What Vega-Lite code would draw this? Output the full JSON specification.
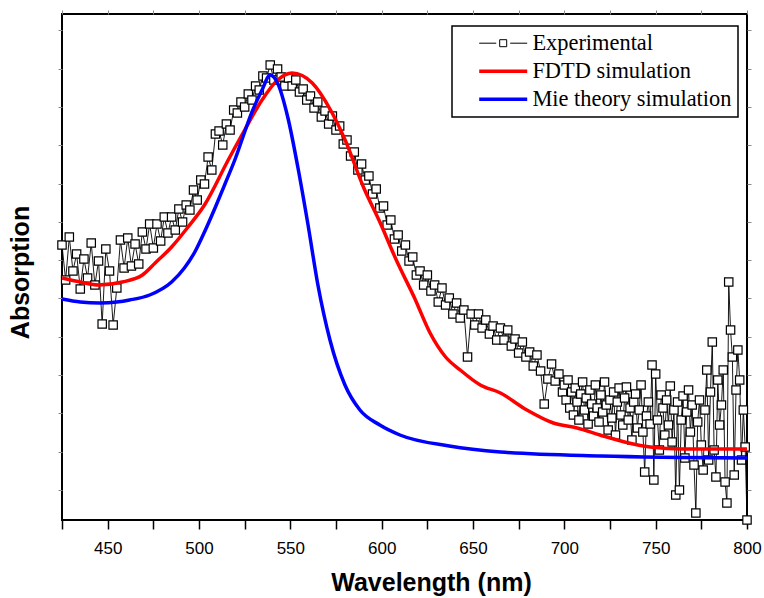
{
  "$schema": "https://vega.github.io/schema/vega-lite/v6.json",
  "width": 685,
  "height": 506,
  "autosize": {"type": "none"},
  "padding": {"left": 62, "top": 14, "right": 17, "bottom": 78},
  "background": "white",
  "config": {
    "view": {"stroke": "black", "strokeWidth": 2},
    "font": "Liberation Sans",
    "axis": {"domain": false, "grid": false},
    "legend": {"title": null}
  },
  "datasets": {
    "exp": [
      {"w":425,"a":275},{"w":427,"a":240},{"w":429,"a":283},{"w":431,"a":249},{"w":433,"a":266},{"w":435,"a":231},{"w":437,"a":261},{"w":439,"a":242},{"w":441,"a":277},{"w":443,"a":235},
      {"w":445,"a":259},{"w":447,"a":196},{"w":449,"a":271},{"w":451,"a":249},{"w":453,"a":195},{"w":455,"a":232},{"w":457,"a":280},{"w":459,"a":252},{"w":461,"a":282},{"w":463,"a":254},
      {"w":465,"a":276},{"w":467,"a":256},{"w":469,"a":288},{"w":471,"a":271},{"w":473,"a":296},{"w":475,"a":272},{"w":477,"a":296},{"w":479,"a":279},{"w":481,"a":303},{"w":483,"a":287},
      {"w":485,"a":303},{"w":487,"a":290},{"w":489,"a":311},{"w":491,"a":298},{"w":493,"a":315},{"w":495,"a":310},{"w":497,"a":330},{"w":499,"a":320},{"w":501,"a":340},{"w":503,"a":336},
      {"w":505,"a":363},{"w":507,"a":350},{"w":509,"a":386},{"w":511,"a":389},{"w":513,"a":375},{"w":515,"a":396},{"w":517,"a":390},{"w":519,"a":410},{"w":521,"a":407},{"w":523,"a":418},
      {"w":525,"a":413},{"w":527,"a":426},{"w":529,"a":420},{"w":531,"a":434},{"w":533,"a":430},{"w":535,"a":444},{"w":537,"a":442},{"w":539,"a":455},{"w":541,"a":440},{"w":543,"a":451},
      {"w":545,"a":443},{"w":547,"a":434},{"w":549,"a":442},{"w":551,"a":434},{"w":553,"a":440},{"w":555,"a":428},{"w":557,"a":431},{"w":559,"a":420},{"w":561,"a":424},{"w":563,"a":412},
      {"w":565,"a":418},{"w":567,"a":403},{"w":569,"a":409},{"w":571,"a":396},{"w":573,"a":404},{"w":575,"a":390},{"w":577,"a":394},{"w":579,"a":376},{"w":581,"a":380},{"w":583,"a":364},
      {"w":585,"a":368},{"w":587,"a":350},{"w":589,"a":356},{"w":591,"a":340},{"w":593,"a":344},{"w":595,"a":326},{"w":597,"a":331},{"w":599,"a":312},{"w":601,"a":314},{"w":603,"a":295},
      {"w":605,"a":300},{"w":607,"a":281},{"w":609,"a":285},{"w":611,"a":269},{"w":613,"a":275},{"w":615,"a":259},{"w":617,"a":263},{"w":619,"a":245},{"w":621,"a":249},{"w":623,"a":235},
      {"w":625,"a":245},{"w":627,"a":229},{"w":629,"a":235},{"w":631,"a":218},{"w":633,"a":232},{"w":635,"a":215},{"w":637,"a":222},{"w":639,"a":206},{"w":641,"a":217},{"w":643,"a":202},
      {"w":645,"a":210},{"w":647,"a":163},{"w":649,"a":206},{"w":651,"a":195},{"w":653,"a":206},{"w":655,"a":192},{"w":657,"a":200},{"w":659,"a":186},{"w":661,"a":194},{"w":663,"a":180},
      {"w":665,"a":192},{"w":667,"a":180},{"w":669,"a":190},{"w":671,"a":174},{"w":673,"a":181},{"w":675,"a":167},{"w":677,"a":178},{"w":679,"a":163},{"w":681,"a":168},{"w":683,"a":154},
      {"w":685,"a":165},{"w":687,"a":149},{"w":689,"a":116},{"w":691,"a":141},{"w":693,"a":156},{"w":695,"a":139},{"w":697,"a":146},{"w":699,"a":128},
      {"w":700,"a":135},{"w":701,"a":120},{"w":702,"a":140},{"w":703,"a":112},{"w":704,"a":128},{"w":705,"a":105},{"w":706,"a":132},{"w":707,"a":118},{"w":708,"a":100},{"w":709,"a":126},
      {"w":710,"a":138},{"w":711,"a":110},{"w":712,"a":122},{"w":713,"a":96},{"w":714,"a":130},{"w":715,"a":116},{"w":716,"a":104},{"w":717,"a":135},{"w":718,"a":112},{"w":719,"a":98},
      {"w":720,"a":125},{"w":721,"a":108},{"w":722,"a":138},{"w":723,"a":115},{"w":724,"a":90},{"w":725,"a":120},{"w":726,"a":102},{"w":727,"a":128},{"w":728,"a":85},{"w":729,"a":118},
      {"w":730,"a":132},{"w":731,"a":105},{"w":732,"a":95},{"w":733,"a":122},{"w":734,"a":133},{"w":735,"a":100},{"w":736,"a":112},{"w":737,"a":80},{"w":738,"a":118},{"w":739,"a":126},
      {"w":740,"a":92},{"w":741,"a":110},{"w":742,"a":135},{"w":743,"a":88},{"w":744,"a":48},{"w":745,"a":104},{"w":746,"a":118},{"w":747,"a":96},{"w":748,"a":155},{"w":749,"a":40},
      {"w":750,"a":146},{"w":751,"a":100},{"w":752,"a":70},{"w":753,"a":125},{"w":754,"a":112},{"w":755,"a":85},{"w":756,"a":120},{"w":757,"a":95},{"w":758,"a":134},{"w":759,"a":78},
      {"w":760,"a":110},{"w":761,"a":25},{"w":762,"a":118},{"w":763,"a":30},{"w":764,"a":100},{"w":765,"a":124},{"w":766,"a":62},{"w":767,"a":108},{"w":768,"a":130},{"w":769,"a":88},
      {"w":770,"a":115},{"w":771,"a":55},{"w":772,"a":7},{"w":773,"a":98},{"w":774,"a":120},{"w":775,"a":75},{"w":776,"a":50},{"w":777,"a":110},{"w":778,"a":150},{"w":779,"a":60},
      {"w":780,"a":128},{"w":781,"a":178},{"w":782,"a":70},{"w":783,"a":43},{"w":784,"a":140},{"w":785,"a":95},{"w":786,"a":115},{"w":787,"a":150},{"w":788,"a":38},{"w":789,"a":17},
      {"w":790,"a":238},{"w":791,"a":190},{"w":792,"a":163},{"w":793,"a":45},{"w":794,"a":130},{"w":795,"a":170},{"w":796,"a":140},{"w":797,"a":60},{"w":798,"a":110},{"w":799,"a":73},
      {"w":800,"a":0}
    ],
    "sim": [
      {"series":"FDTD simulation","w":425,"a":242},{"series":"FDTD simulation","w":435,"a":238},{"series":"FDTD simulation","w":445,"a":235},{"series":"FDTD simulation","w":458,"a":238},
      {"series":"FDTD simulation","w":469,"a":245},{"series":"FDTD simulation","w":476,"a":257},{"series":"FDTD simulation","w":485,"a":273},{"series":"FDTD simulation","w":494,"a":293},
      {"series":"FDTD simulation","w":503,"a":315},{"series":"FDTD simulation","w":516,"a":360},{"series":"FDTD simulation","w":525,"a":390},{"series":"FDTD simulation","w":534.5,"a":420},
      {"series":"FDTD simulation","w":543,"a":440},{"series":"FDTD simulation","w":551,"a":447},{"series":"FDTD simulation","w":562,"a":437},{"series":"FDTD simulation","w":572,"a":410},
      {"series":"FDTD simulation","w":580,"a":380},{"series":"FDTD simulation","w":590,"a":333},{"series":"FDTD simulation","w":599,"a":298},{"series":"FDTD simulation","w":608,"a":260},
      {"series":"FDTD simulation","w":618,"a":222},{"series":"FDTD simulation","w":626.5,"a":187},{"series":"FDTD simulation","w":635,"a":163},{"series":"FDTD simulation","w":643,"a":150},
      {"series":"FDTD simulation","w":654,"a":135},{"series":"FDTD simulation","w":665,"a":127},{"series":"FDTD simulation","w":679.5,"a":110},{"series":"FDTD simulation","w":694,"a":97},
      {"series":"FDTD simulation","w":707,"a":92},{"series":"FDTD simulation","w":719.5,"a":85},{"series":"FDTD simulation","w":733,"a":78},{"series":"FDTD simulation","w":747,"a":73},
      {"series":"FDTD simulation","w":765,"a":71},{"series":"FDTD simulation","w":800,"a":71},
      {"series":"Mie theory simulation","w":425,"a":221},{"series":"Mie theory simulation","w":435,"a":218},{"series":"Mie theory simulation","w":445.8,"a":217},{"series":"Mie theory simulation","w":455,"a":218},
      {"series":"Mie theory simulation","w":462,"a":220},{"series":"Mie theory simulation","w":473,"a":225},{"series":"Mie theory simulation","w":485,"a":238},{"series":"Mie theory simulation","w":492,"a":252},
      {"series":"Mie theory simulation","w":498,"a":269},{"series":"Mie theory simulation","w":503,"a":288},{"series":"Mie theory simulation","w":509,"a":313},{"series":"Mie theory simulation","w":514,"a":335},
      {"series":"Mie theory simulation","w":520,"a":362},{"series":"Mie theory simulation","w":525,"a":388},{"series":"Mie theory simulation","w":529,"a":408},{"series":"Mie theory simulation","w":534.5,"a":430},
      {"series":"Mie theory simulation","w":539,"a":445},{"series":"Mie theory simulation","w":543,"a":437},{"series":"Mie theory simulation","w":548.7,"a":402},{"series":"Mie theory simulation","w":554.2,"a":352},
      {"series":"Mie theory simulation","w":559.7,"a":295},{"series":"Mie theory simulation","w":565.1,"a":235},{"series":"Mie theory simulation","w":571.7,"a":180},{"series":"Mie theory simulation","w":579.9,"a":135},
      {"series":"Mie theory simulation","w":588.1,"a":110},{"series":"Mie theory simulation","w":599,"a":95},{"series":"Mie theory simulation","w":610,"a":85},{"series":"Mie theory simulation","w":637,"a":74},
      {"series":"Mie theory simulation","w":665,"a":68},{"series":"Mie theory simulation","w":720,"a":64},{"series":"Mie theory simulation","w":800,"a":62}
    ]
  },
  "layer": [
    {
      "data": {"name": "exp"},
      "mark": {"type": "line", "strokeWidth": 0.9},
      "encoding": {
        "x": {
          "field": "w", "type": "quantitative",
          "scale": {"domain": [425, 800], "nice": false, "zero": false},
          "axis": {
            "orient": "bottom", "title": "Wavelength (nm)",
            "values": [425,450,475,500,525,550,575,600,625,650,675,700,725,750,775,800],
            "labelExpr": "datum.value % 50 === 0 ? datum.label : ''",
            "labelFlush": false, "labelOverlap": false,
            "tickSize": 9, "tickColor": "black", "tickWidth": 1.5,
            "labelFontSize": 17, "labelColor": "black", "labelPadding": 11,
            "titleFontSize": 25, "titleFontWeight": "bold", "titleColor": "black",
            "titlePadding": 14, "titleX": 369,
            "encode": {"ticks": {"update": {"y2": {"signal": "datum.value % 50 === 0 ? 9 : 5"}}}}
          }
        },
        "y": {
          "field": "a", "type": "quantitative",
          "scale": {"domain": [0, 506], "nice": false, "zero": false},
          "axis": {
            "orient": "left", "title": "Absorption",
            "values": [30,68,107,145,183,222,260,298,336,375,413,451,490],
            "labels": false, "tickSize": 4, "tickColor": "#888", "tickWidth": 1,
            "titleFontSize": 25, "titleFontWeight": "bold", "titleColor": "black",
            "titlePadding": 24, "titleY": 258,
            "encode": {"ticks": {"update": {"x2": {"value": 4}}}}
          }
        },
        "color": {
          "datum": "Experimental", "type": "nominal",
          "scale": {"domain": ["Experimental", "FDTD simulation", "Mie theory simulation"], "range": ["black", "#ff0000", "#0000ff"]},
          "legend": {
            "orient": "none", "legendX": 390, "legendY": 12, "title": null,
            "labelFont": "Liberation Serif", "labelFontSize": 22.4, "labelColor": "black", "labelLimit": 400,
            "strokeColor": "black", "fillColor": "white", "padding": 6,
            "symbolSize": 400, "symbolStrokeWidth": 1, "symbolOffset": 34, "labelOffset": 18, "rowPadding": 5,
            "encode": {
              "symbols": {"update": {
                "shape": {"signal": "datum.value === 'Experimental' ? 'M-2.4,0H-0.7M0.7,0H2.4M-0.35,-0.35H0.35V0.35H-0.35Z' : 'M-2.4,0H2.4'"},
                "strokeWidth": {"signal": "datum.value === 'Experimental' ? 1 : 3.5"},
                "fill": {"value": "white"},
                "opacity": {"value": 1}
              }},
              "legend": {"update": {"strokeWidth": {"value": 1.5}}}
            }
          }
        }
      }
    },
    {
      "data": {"name": "exp"},
      "mark": {"type": "point", "shape": "square", "size": 70, "filled": true, "fill": "white", "stroke": "black", "strokeWidth": 1.2, "opacity": 1},
      "encoding": {
        "x": {
          "field": "w", "type": "quantitative",
          "scale": {"domain": [425, 800], "nice": false, "zero": false},
          "axis": {
            "orient": "top", "title": null, "labels": false,
            "values": [425,450,475,500,525,550,575,600,625,650,675,700,725,750,775,800],
            "tickSize": 4, "tickColor": "#888", "tickWidth": 1,
            "encode": {"ticks": {"update": {"y2": {"value": 4}}}}
          }
        },
        "y": {
          "field": "a", "type": "quantitative",
          "scale": {"domain": [0, 506], "nice": false, "zero": false},
          "axis": {
            "orient": "right", "title": null, "labels": false,
            "values": [30,68,107,145,183,222,260,298,336,375,413,451,490],
            "tickSize": 4, "tickColor": "#888", "tickWidth": 1,
            "encode": {"ticks": {"update": {"x2": {"value": -4}}}}
          }
        }
      }
    },
    {
      "data": {"name": "sim"},
      "mark": {"type": "line", "strokeWidth": 3.5, "interpolate": "monotone"},
      "encoding": {
        "x": {"field": "w", "type": "quantitative", "scale": {"domain": [425, 800], "nice": false, "zero": false}, "axis": null},
        "y": {"field": "a", "type": "quantitative", "scale": {"domain": [0, 506], "nice": false, "zero": false}, "axis": null},
        "color": {"field": "series", "type": "nominal", "title": null}
      }
    }
  ],
  "resolve": {"axis": {"x": "independent", "y": "independent"}}
}
